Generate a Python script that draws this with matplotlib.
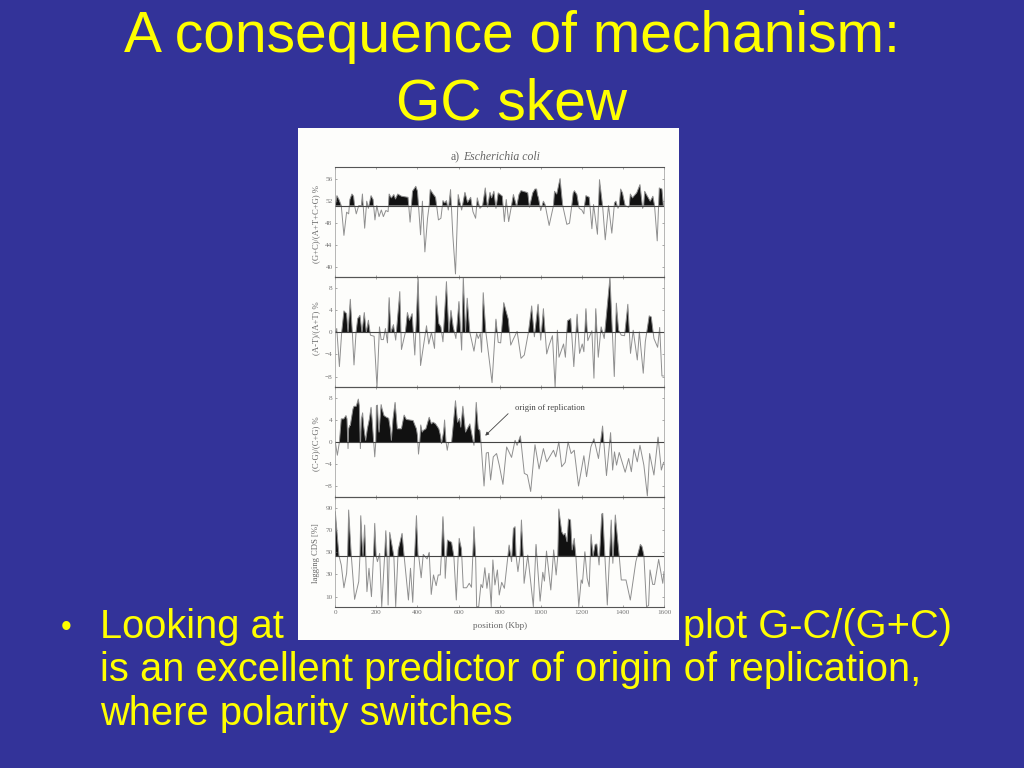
import numpy as np
import matplotlib
matplotlib.use("Agg")
import matplotlib.pyplot as plt
from matplotlib.patches import Rectangle

title_lines = ["A consequence of mechanism:", "GC skew"]
chart_title_a = "a)"
chart_title_b = "Escherichia coli"
annotation = "origin of replication"
x_label = "position (Kbp)"
x_ticks = [0, 200, 400, 600, 800, 1000, 1200, 1400, 1600]

gc_base = 51.2
gc_x = [0,8,18,29,42,55,65,71,81,89,94,102,114,127,132,143,153,161,174,184,193,202,213,224,234,246,257,262,273,285,293,304,322,354,364,376,392,400,403,415,424,436,449,457,462,476,488,502,514,524,533,541,550,561,572,585,598,615,631,644,659,670,683,691,704,717,730,741,753,761,772,782,793,813,823,832,844,867,883,894,904,932,937,945,961,972,980,984,989,1000,1013,1021,1041,1062,1067,1078,1094,1107,1127,1140,1151,1158,1164,1176,1187,1200,1210,1213,1220,1236,1249,1257,1276,1286,1301,1314,1330,1346,1359,1366,1376,1382,1389,1398,1411,1428,1431,1436,1447,1455,1467,1483,1496,1501,1506,1519,1533,1546,1554,1567,1574,1577,1590,1597]
gc_y = [51.2,53.0,52.3,51.2,45.8,50.0,49.7,52.3,53.3,52.9,51.2,49.7,51.2,51.2,53.3,47.1,52.0,50.7,53.0,52.3,48.6,51.2,49.2,50.4,49.2,50.3,50.1,53.3,52.6,53.2,52.4,53.3,52.9,52.7,48.2,53.8,54.7,53.8,52.3,45.9,52.0,42.8,48.9,51.2,54.1,53.3,52.7,48.6,48.9,52.1,51.7,52.1,50.4,54.1,45.9,38.8,53.2,50.4,53.6,51.8,52.7,50.1,48.9,52.6,50.7,51.2,54.4,50.9,53.6,52.6,53.8,50.7,53.5,52.9,48.3,52.3,48.3,53.2,51.0,53.2,53.9,53.6,53.5,50.9,53.5,54.2,54.2,53.2,52.6,50.3,52.0,51.4,47.6,51.2,53.8,53.3,56.1,51.2,47.8,48.0,51.2,53.5,53.9,53.2,50.7,50.4,49.7,51.2,53.0,52.7,47.0,51.4,46.0,55.9,51.2,45.0,51.2,46.2,51.7,52.0,50.7,51.2,54.2,53.5,51.2,50.9,51.2,53.3,52.6,53.0,53.5,55.0,50.7,51.2,53.8,52.9,52.0,52.9,51.2,44.8,51.2,54.4,54.2,51.2]

at_base = 0.0
at_x = [0,7,20,31,42,55,62,73,83,91,101,109,120,130,141,151,161,171,189,203,215,223,234,244,254,262,271,283,294,314,322,341,351,361,374,387,403,415,431,444,455,468,483,491,504,514,524,541,553,563,574,587,602,615,623,634,642,655,675,688,696,706,712,720,733,763,782,793,805,820,842,854,867,885,904,920,940,956,969,987,1000,1013,1029,1041,1057,1070,1081,1089,1111,1120,1130,1146,1161,1177,1189,1202,1210,1220,1229,1249,1259,1268,1280,1294,1309,1337,1358,1368,1379,1392,1408,1424,1437,1450,1470,1480,1499,1509,1528,1538,1551,1569,1579,1590,1597]
at_y = [0,0.7,-6.2,0,3.9,3.4,0,6,0,-5.9,0,2.5,3.1,0,3.6,0,2.2,-0.5,-0.7,-10,1,-1.3,-1.3,0.7,-1.9,6.3,0,1.4,-1.4,7.4,-3.1,0,3.6,2.2,3.4,-4.1,10,-6,-2,1.2,-2.1,0,-2.9,6.6,1.6,1,-1.7,9.2,0,4,1,-1.1,5.6,-3.2,10,0,6.2,0,-3.4,-0.2,-1.1,-0.2,-3.6,7.2,0,-9.1,2.4,-1.8,-1.9,5.4,2.4,-2.3,-1.2,0.2,-4.7,-4.1,0,4.8,-0.8,5.1,-1.4,4.3,-3.9,-2.3,-0.6,-10,0.4,-4.5,-2.1,-4.5,2.1,2.5,-6.2,3.3,-3.8,-2.1,-3.5,4.3,-1.5,0.3,-8.3,4.3,-4.5,1,-1.1,10,-8,5.3,0.4,-0.5,-0.6,5.1,-3.8,0.4,-5,0.1,-7.4,-1.7,3,2.8,-1.1,-2.7,0.9,-7.9,-7.9]

cg_base = 0.0
cg_x = [0,10,20,29,41,52,57,62,65,70,73,78,86,91,102,112,117,122,127,133,138,143,148,156,166,174,179,187,192,197,200,205,210,213,223,228,237,249,260,268,273,281,291,298,302,322,335,346,379,387,395,400,405,411,416,423,428,441,457,468,476,488,504,512,517,527,532,536,539,545,551,566,585,595,605,611,621,634,655,675,686,696,704,709,724,735,745,756,769,785,798,816,834,858,875,885,901,920,935,951,972,992,1013,1029,1062,1073,1088,1102,1119,1133,1148,1163,1184,1210,1223,1244,1259,1281,1301,1320,1340,1350,1359,1369,1382,1411,1428,1441,1454,1470,1483,1502,1519,1530,1551,1571,1587,1598]
cg_y = [0,-2.4,0,4.2,4.2,4.8,4.2,-1.2,2.4,3,3,4.2,6,6.5,6.5,7.8,6.6,-1.2,4.2,5.3,3,1.5,0.3,2.4,4.2,6.3,4.2,0,-2.7,0,6.6,6.7,3,1.8,6.8,6,4.8,4.5,4.3,2.4,0.3,4.2,7.2,4.2,2.4,2.4,4.9,4.1,3.9,3.1,2.4,1.2,-2.2,0,3.1,1.8,2.1,2.4,4.5,3.3,3.6,3.3,2.4,1.2,-0.3,1.8,4,1.8,0,-1.5,-0.1,-0.1,7.5,3.6,4.3,2.7,6.5,1.8,3.3,-0.6,7.2,2.4,2.1,0,-8,-2,-1.9,-6.9,-2.7,-2.1,-4.2,-7.7,-0.9,-2.8,0.3,-0.6,1.1,-5.7,-6,-9,-0.5,-4.9,-1.2,-3.6,-1.5,-2.7,0,-4.5,-3.7,0,-2.1,-1.5,-8,-2.5,-6.3,-0.9,0.6,-3,2.9,-6.1,1.7,-5.1,-1.8,-4.2,-1.9,-5.5,-3,-5.4,-1.3,-3.6,-0.6,-4.2,-9.8,-2.1,-6,0.9,-5.1,-3.7]

cds_base = 46.6
cds_x = [0,18,29,42,55,60,65,73,78,94,114,120,124,130,135,143,154,164,176,186,192,199,205,216,226,240,246,252,257,265,273,285,294,306,325,335,356,366,377,386,395,403,406,418,428,447,457,467,478,491,501,511,516,524,533,535,546,566,577,589,598,603,614,623,639,652,663,669,675,683,688,698,709,717,728,738,748,759,767,777,789,798,810,823,846,858,867,875,880,889,899,906,915,919,937,964,977,997,1010,1018,1028,1049,1063,1075,1083,1088,1102,1111,1119,1128,1135,1145,1153,1163,1171,1185,1197,1203,1215,1226,1236,1245,1255,1265,1273,1284,1297,1302,1312,1324,1343,1351,1363,1382,1392,1415,1436,1463,1485,1493,1502,1515,1525,1532,1545,1554,1574,1594,1600]
cds_y = [86.4,46.6,38.5,18,31,46.6,87.9,62,46.6,7.6,23.5,46.6,82.8,60,46.6,74.4,14.5,35.5,10,46.6,75.9,46.6,41.5,48.9,1,46.6,69.3,46.6,2.5,67.8,59.4,46.6,1,52,66.9,46.6,7,35.5,4.9,46.6,82.8,46.6,46.6,27,48,43.9,49.8,12,29.5,19.9,29.5,29.5,46.6,81.9,46.6,26.5,60.9,58.8,46.6,7,46.6,62.4,53,18,18,22,18.4,46.6,72.9,46.6,1,1,21,18,36,17.5,31,1,43,20.5,34,11.5,22.9,17.5,56.4,41.5,71.4,72.9,46.6,32.5,46.6,78.9,46.6,22,47.4,1,57,6,31.9,24,51,16,52,29.5,46.6,88.8,68.4,65.4,66.9,59.4,79.8,78.9,52,62.4,46.6,1,25,22,50.4,26.5,19,66,46.6,57,57.3,38.5,84.3,84.9,46.6,2.5,78.9,40,83.4,46.6,25,25,7,41.5,57,55,47.4,1,2,34,21,21,43.5,22,32.5]

panel_labels = ["(G+C)/(A+T+C+G) %", "(A-T)/(A+T) %", "(C-G)/(C+G) %", "lagging CDS [%]"]
panel_ticks = [[40,44,48,52,56], [-8,-4,0,4,8], [-8,-4,0,4,8], [10,30,50,70,90]]
panel_lims = [(38.3,58.2), (-9.9,10.1), (-10,10), (0.7,99.6)]

W, H = 1024, 768
BG = "#333399"; YEL = "#FFFF00"; INK = "#666666"; LINE = "#8f8f8f"
fig = plt.figure(figsize=(W/100, H/100), dpi=100, facecolor=BG)
plt.rcParams['font.family'] = ['Liberation Sans', 'DejaVu Sans']

def fx(p): return p/W
def fy(p): return 1-p/H

for line, yb in zip(title_lines, [52, 120]):
    fig.text(0.5, fy(yb), line, color=YEL, fontsize=41, ha='center', va='baseline', family='Liberation Sans')

BODY = 28.7
fig.text(fx(61), fy(636), "•", color=YEL, fontsize=22, ha='left', va='baseline', family='Liberation Sans')
fig.text(fx(100), fy(638), "Looking at", color=YEL, fontsize=BODY, ha='left', va='baseline', family='Liberation Sans')
fig.text(fx(952), fy(638), "plot G-C/(G+C)", color=YEL, fontsize=BODY, ha='right', va='baseline', family='Liberation Sans')
fig.text(fx(100), fy(681), "is an excellent predictor of origin of replication,", color=YEL, fontsize=BODY, ha='left', va='baseline', family='Liberation Sans')
fig.text(fx(100), fy(725), "where polarity switches", color=YEL, fontsize=BODY, ha='left', va='baseline', family='Liberation Sans')

fig.add_artist(Rectangle((fx(298), fy(640)), 381/W, 512/H, transform=fig.transFigure, facecolor="#fdfdfb", edgecolor='none', zorder=2))

edges = [167, 276.7, 387, 497, 607]
series = [(gc_x,gc_y,gc_base),(at_x,at_y,at_base),(cg_x,cg_y,cg_base),(cds_x,cds_y,cds_base)]
label_centers = [224, 328, 444, 553]
L, R = 335.3, 664
for i,(x,y,b) in enumerate(series):
    ax = fig.add_axes([fx(L), fy(edges[i+1]), (R-L)/W, (edges[i+1]-edges[i])/H], zorder=3)
    ax.set_facecolor('none')
    x = np.array(x,float); y = np.array(y,float)
    ax.fill_between(x, b, y, where=y>=b, interpolate=True, color="#111111", lw=0)
    ax.plot(x, y, color=LINE, lw=0.7)
    ax.axhline(b, color="#444444", lw=0.8)
    ax.set_xlim(0,1600); ax.set_ylim(*panel_lims[i])
    ax.set_xticks(x_ticks); ax.set_yticks(panel_ticks[i])
    ax.tick_params(axis='both', direction='in', length=1.5, width=0.4, color=INK, labelcolor="#777777", labelsize=5.2, pad=2, top=True, right=True, labelfontfamily='Liberation Serif')
    ax.set_xticklabels([str(t) for t in x_ticks] if i==3 else [])
    for s in ax.spines.values():
        s.set_linewidth(0.5); s.set_color("#999999")
    ax.spines['top'].set_color("#555555"); ax.spines['bottom'].set_color("#555555")
    ax.spines['top'].set_linewidth(0.8); ax.spines['bottom'].set_linewidth(0.8)
    fig.text(fx(316), fy(label_centers[i]), panel_labels[i], rotation=90, color=INK, fontsize=6.2, ha='center', va='center', family='Liberation Serif', zorder=4)
    if i==3:
        ax.set_xlabel(x_label, fontsize=6.7, color=INK, family='Liberation Serif', labelpad=5)
    if i==2:
        ax.text(1045, 6.2, annotation, fontsize=6.2, color="#444444", family='Liberation Serif', ha='center', va='center')
        ax.annotate("", xy=(720,0.8), xytext=(851,5.5), arrowprops=dict(arrowstyle='-|>', color="#444444", lw=0.6, mutation_scale=5))

fig.text(fx(451), fy(157), chart_title_a, color=INK, fontsize=8.5, ha='left', va='center', family='Liberation Serif', zorder=4)
fig.text(fx(463), fy(157), chart_title_b, color=INK, fontsize=8.5, style='italic', ha='left', va='center', family='Liberation Serif', zorder=4)

fig.savefig("out.png", dpi=100, facecolor=BG)
